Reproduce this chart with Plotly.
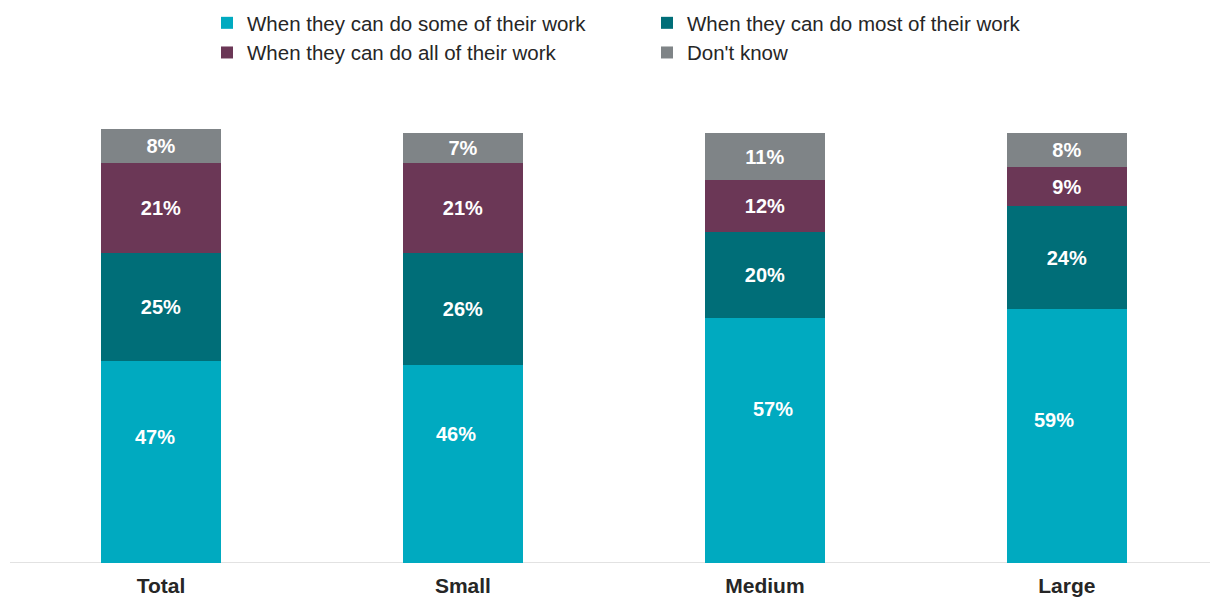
import plotly.graph_objects as go

# Company-size groups and the share of responses in each answer band
categories = ["Total", "Small", "Medium", "Large"]
series_names = [
    "When they can do some of their work",
    "When they can do most of their work",
    "When they can do all of their work",
    "Don't know",
]
some_work = [47, 46, 57, 59]
most_work = [25, 26, 20, 24]
all_work = [21, 21, 12, 9]
dont_know = [8, 7, 11, 8]

# Hand-placed label heights (in % units) and horizontal nudges (px)
# for the labels of the bottom band
some_label_y = [29.2, 30.1, 35.9, 33.3]
some_label_dx = [-6, -7, 8, -13]

series_values = [some_work, most_work, all_work, dont_know]
series_colors = ["#00AAC0", "#006E78", "#6B3756", "#7F8487"]

FONT = "Liberation Sans, Arial, sans-serif"
LABEL_FONT = dict(family=FONT, size=20, color="white", weight="bold")

fig = go.Figure()
for i, (name, vals, color) in enumerate(zip(series_names, series_values, series_colors)):
    fig.add_trace(
        go.Bar(
            x=categories,
            y=vals,
            name=name,
            marker=dict(color=color, line=dict(width=0)),
            width=0.397,
            text=None if i == 0 else [f"{v}%" for v in vals],
            textposition="none" if i == 0 else "inside",
            insidetextanchor="middle",
            textangle=0,
            textfont=LABEL_FONT,
            hoverinfo="skip",
        )
    )

# Bottom-band value labels
for cat, v, ly, dx in zip(categories, some_work, some_label_y, some_label_dx):
    fig.add_annotation(
        x=cat,
        y=ly,
        xref="x",
        yref="y",
        text=f"{v}%",
        showarrow=False,
        xshift=dx,
        font=LABEL_FONT,
    )

fig.update_layout(
    barmode="stack",
    width=1210,
    height=597,
    paper_bgcolor="white",
    plot_bgcolor="white",
    margin=dict(l=10, r=0, t=100, b=34, pad=0, autoexpand=False),
    font=dict(family=FONT, color="#262626"),
    uniformtext=dict(minsize=20, mode="show"),
    showlegend=True,
    legend=dict(
        orientation="h",
        xref="container",
        yref="container",
        x=207 / 1210,
        y=1 - 3 / 597,
        xanchor="left",
        yanchor="top",
        entrywidth=395,
        entrywidthmode="pixels",
        font=dict(family=FONT, size=20.5, color="#262626"),
        bgcolor="rgba(0,0,0,0)",
        traceorder="normal",
    ),
    xaxis=dict(
        range=[-0.5, 3.474],
        showgrid=False,
        zeroline=False,
        showline=False,
        ticks="",
        automargin=False,
        tickfont=dict(family=FONT, size=21, color="#262626", weight="bold"),
        ticklabelstandoff=8,
    ),
    yaxis=dict(
        range=[0, 107.7],
        showgrid=False,
        zeroline=False,
        showline=False,
        showticklabels=False,
        automargin=False,
        ticks="",
    ),
)

# Baseline under the bars
fig.add_shape(
    type="line",
    xref="paper",
    yref="y",
    x0=0,
    x1=1,
    y0=0,
    y1=0,
    line=dict(color="#D9D9D9", width=1.5),
    layer="below",
)

fig.write_html("out.html")
